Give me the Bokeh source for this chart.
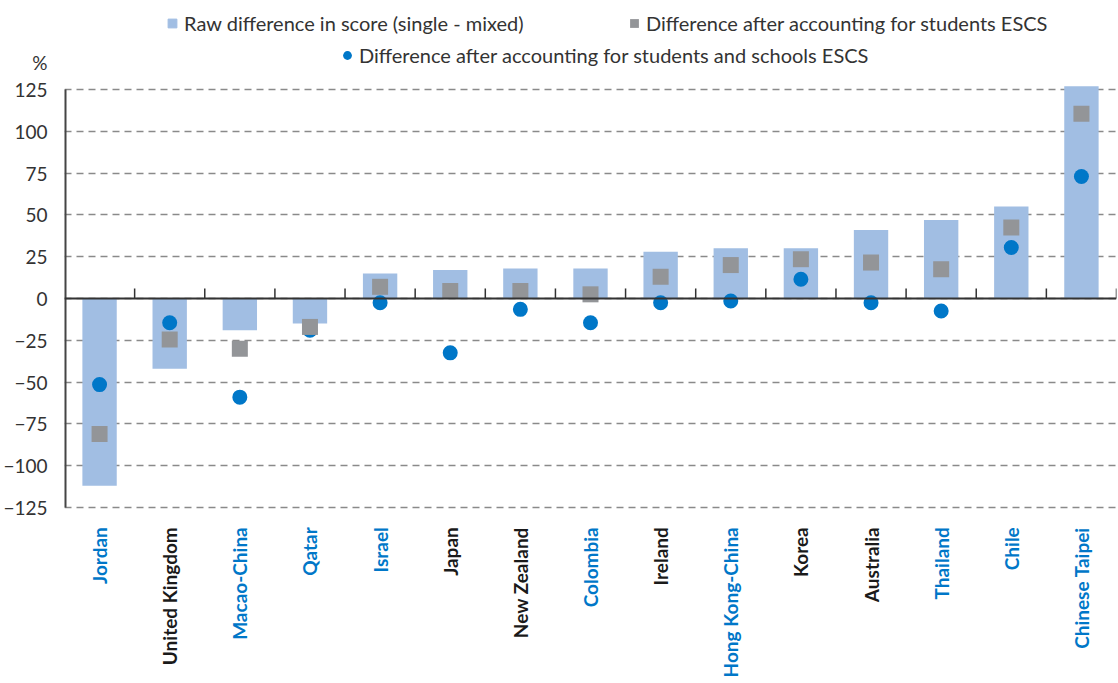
import numpy as np
from bokeh.plotting import figure
from bokeh.models import Range1d, FixedTicker, Span, Legend, LegendItem, ColumnDataSource
from bokeh.core.properties import value
from bokeh.embed import file_html
from bokeh.resources import INLINE

# ---- data ----
countries = ["Jordan", "United Kingdom", "Macao-China", "Qatar", "Israel", "Japan",
             "New Zealand", "Colombia", "Ireland", "Hong Kong-China", "Korea",
             "Australia", "Thailand", "Chile", "Chinese Taipei"]
raw_diff = [-112, -42, -19, -15, 15, 17, 18, 18, 28, 30, 30, 41, 47, 55, 127]
students_escs = [-81, -24.5, -30, -17, 7, 4.5, 4.5, 2.5, 13, 20, 23.5, 21.5, 17.5, 42.5, 110.5]
schools_escs = [-51.5, -14.5, -59, -19, -2.5, -32.5, -6.5, -14.5, -2.5, -1.5, 11.5, -2.5, -7.5, 30.5, 73]
label_highlight = [True, False, True, True, True, False, False, True, False, True,
                   False, False, True, True, True]
y_ticks = [-125, -100, -75, -50, -25, 0, 25, 50, 75, 100, 125]
unit_label = "%"

FONT = "Lato"
BLUE = "#0077C8"
BAR = "#A1BEE3"
GREY = "#939598"
TXT = "#333333"

n = len(countries)
xc = np.arange(n) + 0.5
src = ColumnDataSource(dict(
    x=xc, raw=raw_diff, raw_mid=np.array(raw_diff) / 2.0,
    stu=students_escs, sch=schools_escs, name=countries,
    color=[BLUE if h else "#1A1A1A" for h in label_highlight]))

p = figure(width=1118, height=683, x_range=Range1d(0, n), y_range=Range1d(-230.26, 178.23),
           output_backend="svg", toolbar_location=None, x_axis_location=None,
           min_border_left=64, min_border_right=2, min_border_top=0, min_border_bottom=0)
p.outline_line_color = None
p.background_fill_color = "white"
p.xgrid.visible = False
p.ygrid.ticker = FixedTicker(ticks=y_ticks)
p.ygrid.grid_line_color = "#8A8A8A"
p.ygrid.grid_line_dash = "7 5"
p.ygrid.grid_line_width = 1.5

# y axis: tick labels plus the unit label above them
unit_pos = 141
ax = p.yaxis[0]
ax.ticker = FixedTicker(ticks=y_ticks + [unit_pos])
ax.major_label_overrides = {unit_pos: unit_label}
ax.axis_line_color = None
ax.major_tick_in = 0
ax.major_tick_out = 0
ax.minor_tick_in = 0
ax.minor_tick_out = 0
ax.major_label_standoff = 17
ax.major_label_text_font = FONT
ax.major_label_text_font_size = "19px"
ax.major_label_text_color = TXT

# vertical axis line from the lowest to the highest tick (half clipped at frame edge)
p.segment(x0=0, y0=min(y_ticks), x1=0, y1=max(y_ticks), line_color="#454545", line_width=4)

# legend helper marker (hidden inside the bars, same colour)
r_leg = p.scatter(x="x", y="raw_mid", marker="square", size=9, color=BAR, source=src)
r_bar = p.vbar(x="x", top="raw", bottom=0, width=0.49, fill_color=BAR, line_color=None, source=src)

p.add_layout(Span(location=0, dimension="width", line_color="#333333", line_width=2))
bounds_x = np.arange(1, n + 1)
p.segment(x0=bounds_x, y0=0, x1=bounds_x, y1=6, line_color="#333333", line_width=1.5)

r_sch = p.scatter(x="x", y="sch", marker="circle", size=15, fill_color=BLUE, line_color=None, source=src)
r_stu = p.scatter(x="x", y="stu", marker="square", size=16, fill_color=GREY, line_color=None, source=src)

p.text(x="x", y=-136.8, text="name", angle=np.pi / 2, text_align="right", text_baseline="middle",
       text_color="color", text_font=value(FONT), text_font_style="bold", text_font_size="19px",
       source=src)


def mk_legend(label, rend, loc):
    lg = Legend(items=[LegendItem(label=label, renderers=[rend])], location=loc,
                orientation="horizontal", border_line_color=None, background_fill_alpha=0,
                padding=0, margin=0, glyph_width=22, glyph_height=22, label_standoff=1,
                label_text_font=FONT, label_text_font_size="20px", label_text_color=TXT)
    p.add_layout(lg)


mk_legend("Raw difference in score (single - mixed)", r_leg, (97, 648))
mk_legend("Difference after accounting for students ESCS", r_stu, (559, 648))
mk_legend("Difference after accounting for students and schools ESCS", r_sch, (272, 616))

open("out.html", "w").write(file_html(p, INLINE))
